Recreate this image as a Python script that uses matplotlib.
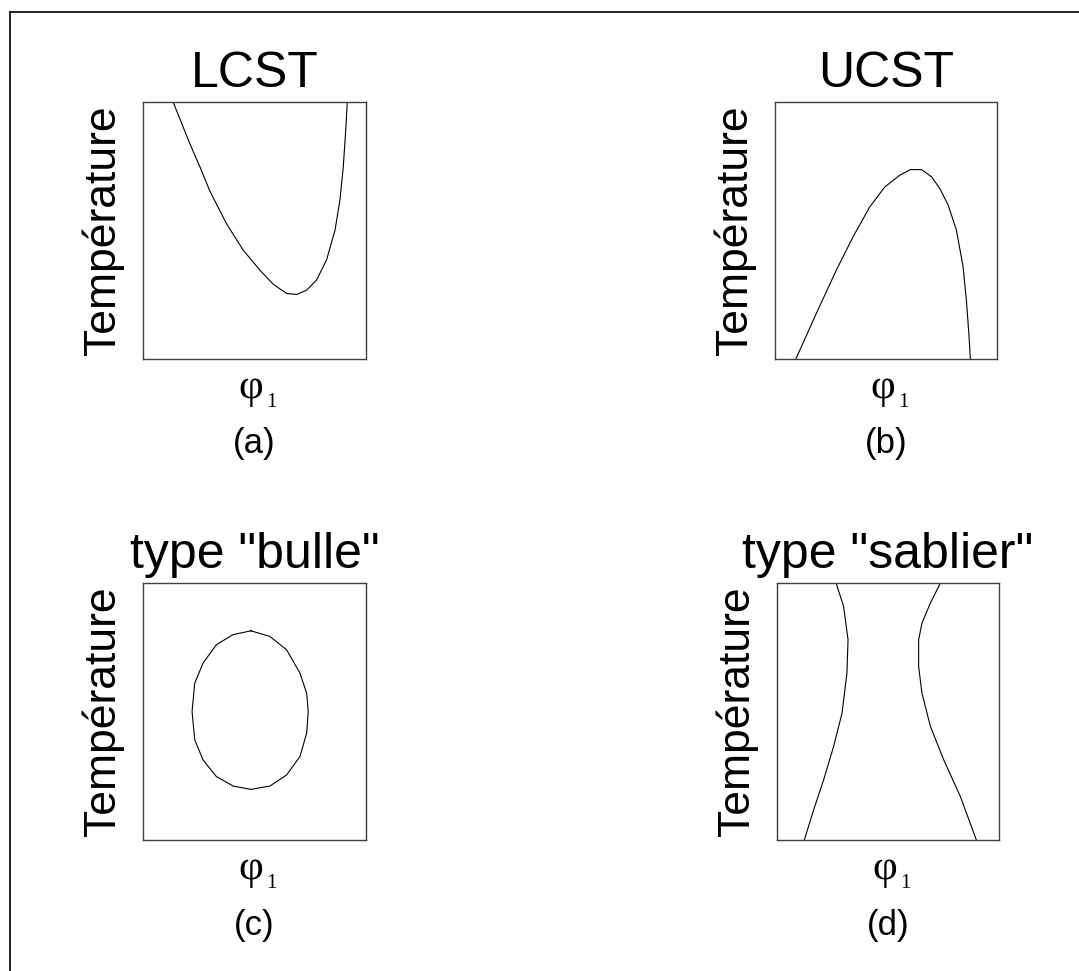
import matplotlib
matplotlib.use('Agg')
import matplotlib.pyplot as plt
from matplotlib.lines import Line2D

plt.rcParams['font.family'] = ['Liberation Sans', 'DejaVu Sans']

# courbes (axes normalises 0..1)
lcst_x = [0.135, 0.21, 0.26, 0.299, 0.374, 0.449, 0.524, 0.584, 0.644, 0.689, 0.734,
          0.778, 0.823, 0.861, 0.883, 0.898, 0.910, 0.916]
lcst_y = [1.0, 0.838, 0.738, 0.655, 0.527, 0.424, 0.346, 0.291, 0.255, 0.251, 0.268,
          0.307, 0.385, 0.501, 0.618, 0.747, 0.902, 1.0]

ucst_x = [0.094, 0.187, 0.277, 0.352, 0.427, 0.495, 0.562, 0.610, 0.660, 0.705,
          0.742, 0.780, 0.817, 0.847, 0.862, 0.873, 0.880]
ucst_y = [0.0, 0.179, 0.347, 0.476, 0.592, 0.670, 0.715, 0.737, 0.737, 0.709,
          0.664, 0.599, 0.502, 0.360, 0.230, 0.101, 0.0]

bulle_x = [0.484, 0.569, 0.644, 0.704, 0.734, 0.741, 0.734, 0.704, 0.644, 0.569,
           0.484, 0.404, 0.329, 0.269, 0.232, 0.220, 0.232, 0.269, 0.329, 0.404, 0.484]
bulle_y = [0.814, 0.792, 0.740, 0.649, 0.571, 0.500, 0.416, 0.325, 0.253, 0.210,
           0.197, 0.210, 0.247, 0.312, 0.390, 0.500, 0.610, 0.688, 0.760, 0.799, 0.814]

sablier_g_x = [0.266, 0.300, 0.320, 0.315, 0.293, 0.255, 0.210, 0.165, 0.123]
sablier_g_y = [1.0, 0.909, 0.779, 0.649, 0.494, 0.364, 0.234, 0.117, 0.0]
sablier_d_x = [0.736, 0.691, 0.653, 0.638, 0.638, 0.653, 0.691, 0.751, 0.826, 0.898]
sablier_d_y = [1.0, 0.922, 0.844, 0.779, 0.675, 0.571, 0.442, 0.312, 0.169, 0.0]

titres = ['LCST', 'UCST', 'type "bulle"', 'type "sablier"']
lettres = ['(a)', '(b)', '(c)', '(d)']
courbes = [
    [(lcst_x, lcst_y)],
    [(ucst_x, ucst_y)],
    [(bulle_x, bulle_y)],
    [(sablier_g_x, sablier_g_y), (sablier_d_x, sablier_d_y)],
]

W, H = 1079, 971
fig = plt.figure(figsize=(W / 100, H / 100), dpi=100)

# boites des axes en pixels (gauche, haut, droite, bas)
boites = [(143, 102, 366, 359), (775, 102, 997, 359),
          (143, 583, 366, 840), (777, 583, 999, 840)]

for i, (l, t, r, b) in enumerate(boites):
    ax = fig.add_axes([l / W, 1 - b / H, (r - l) / W, (b - t) / H])
    for xs, ys in courbes[i]:
        ax.plot(xs, ys, color='black', lw=0.8)
    ax.set_xlim(0, 1)
    ax.set_ylim(0, 1)
    ax.set_xticks([])
    ax.set_yticks([])
    for s in ax.spines.values():
        s.set_color('#404040')
        s.set_linewidth(1.0)
    ax.set_title(titres[i], fontsize=36, pad=11)
    ax.set_ylabel('Température', fontsize=32, labelpad=14)
    # phi avec indice 1
    ax.annotate('φ', xy=(0.5, 0), xycoords='axes fraction', xytext=(-16, -39),
                textcoords='offset pixels', ha='left', va='baseline',
                family='Liberation Serif', fontsize=31)
    ax.annotate('1', xy=(0.5, 0), xycoords='axes fraction', xytext=(12, -48),
                textcoords='offset pixels', ha='left', va='baseline',
                family='Liberation Serif', fontsize=15)
    ax.annotate(lettres[i], xy=(0.5, 0), xycoords='axes fraction', xytext=(0, -85),
                textcoords='offset pixels', ha='center', va='center', fontsize=25)

# cadre exterieur (haut et gauche seulement)
fig.add_artist(Line2D([10 / W, 1], [1 - 12 / H, 1 - 12 / H], color='black', lw=1.2))
fig.add_artist(Line2D([10 / W, 10 / W], [0, 1 - 12 / H], color='black', lw=1.2))

fig.savefig('out.png', dpi=100)
